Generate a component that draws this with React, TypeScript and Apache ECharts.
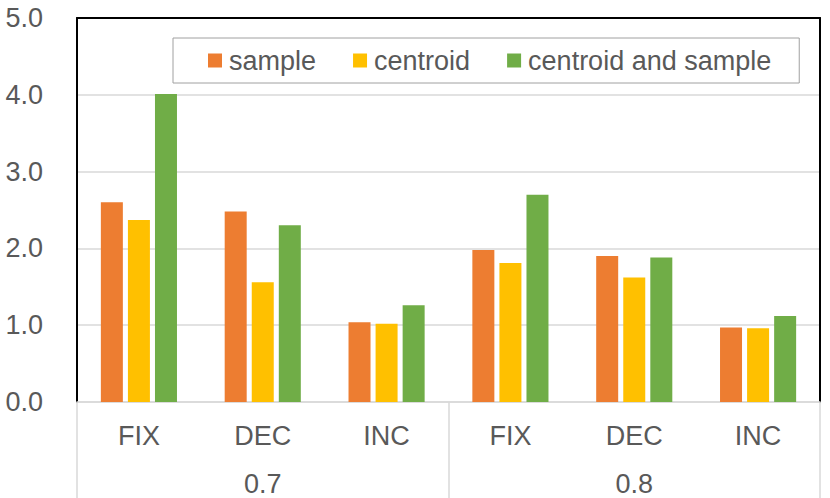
import React, { useEffect, useRef } from 'react';
import * as echarts from 'echarts';

const categories = ['FIX', 'DEC', 'INC', 'FIX', 'DEC', 'INC'];
const groups = ['0.7', '0.8'];
const seriesNames = ['sample', 'centroid', 'centroid and sample'];
const sampleValues = [2.6, 2.48, 1.04, 1.98, 1.9, 0.97];
const centroidValues = [2.37, 1.56, 1.02, 1.81, 1.62, 0.96];
const bothValues = [4.01, 2.3, 1.26, 2.7, 1.88, 1.12];
const colors = ['#ED7D31', '#FFC000', '#70AD47'];
const yMin = 0;
const yMax = 5;
const yInterval = 1;

const FONT = "'Liberation Sans', Arial, sans-serif";
const TEXT = '#595959';
const GRIDC = '#D9D9D9';

export default function App() {
  const ref = useRef<HTMLDivElement>(null);
  useEffect(() => {
    document.body.style.margin = '0';
    const chart = echarts.init(ref.current!, null, { renderer: 'svg' });
    const values = [sampleValues, centroidValues, bothValues];
    chart.setOption({
      animation: false,
      backgroundColor: '#fff',
      textStyle: { fontFamily: FONT },
      grid: { left: 77, right: 10, top: 18, bottom: 96, containLabel: false },
      legend: {
        left: 173,
        top: 38,
        data: seriesNames,
        icon: 'rect',
        itemWidth: 14,
        itemHeight: 14,
        itemGap: 37,
        padding: [9, 28, 9, 35],
        borderColor: '#A0A0A0',
        borderWidth: 1,
        backgroundColor: '#fff',
        textStyle: { fontSize: 27, color: TEXT, fontFamily: FONT, padding: [0, 0, 0, 2] },
      },
      xAxis: [
        {
          type: 'category',
          data: categories,
          position: 'bottom',
          axisLine: { show: true, lineStyle: { color: GRIDC, width: 1.5 } },
          axisTick: { show: false },
          axisLabel: { fontSize: 27, color: TEXT, margin: 20, fontFamily: FONT },
          splitLine: { show: false },
        },
        {
          type: 'category',
          data: groups,
          position: 'bottom',
          axisLine: { show: false },
          axisTick: {
            show: true,
            length: 96,
            alignWithLabel: false,
            interval: 0,
            lineStyle: { color: GRIDC, width: 1.5 },
          },
          axisLabel: { fontSize: 27, color: TEXT, margin: 68, fontFamily: FONT },
          splitLine: { show: false },
        },
        {
          type: 'category',
          data: categories,
          position: 'top',
          axisLine: { show: true, lineStyle: { color: '#000', width: 2 } },
          axisTick: { show: false },
          axisLabel: { show: false },
        },
      ],
      yAxis: [
        {
          type: 'value',
          min: yMin,
          max: yMax,
          interval: yInterval,
          axisLine: { show: true, lineStyle: { color: '#000', width: 2 } },
          axisTick: { show: false },
          axisLabel: {
            fontSize: 27,
            color: TEXT,
            margin: 34,
            fontFamily: FONT,
            formatter: (v: number) => v.toFixed(1),
          },
          splitLine: { show: true, lineStyle: { color: GRIDC, width: 1.5 } },
        },
        {
          type: 'value',
          position: 'right',
          min: yMin,
          max: yMax,
          interval: yInterval,
          axisLine: { show: true, lineStyle: { color: '#000', width: 2 } },
          axisTick: { show: false },
          axisLabel: { show: false },
          splitLine: { show: false },
        },
      ],
      series: seriesNames.map((name, i) => ({
        name,
        type: 'bar',
        xAxisIndex: 0,
        yAxisIndex: 0,
        data: values[i],
        barWidth: 22,
        barGap: '23%',
        itemStyle: { color: colors[i] },
      })),
    });
    return () => chart.dispose();
  }, []);
  return (
    <div
      ref={ref}
      style={{ position: 'absolute', left: 0, top: 0, width: 830, height: 498 }}
    />
  );
}
